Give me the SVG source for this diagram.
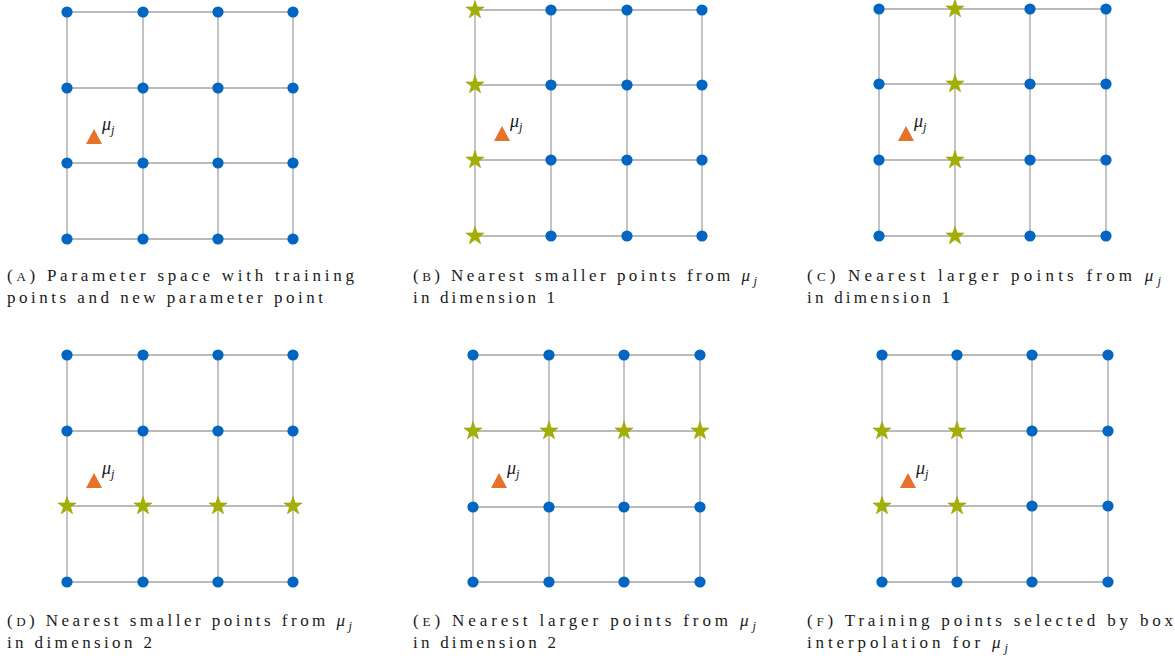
<svg xmlns="http://www.w3.org/2000/svg" width="1175" height="663" viewBox="0 0 1175 663">
<defs>
<circle id="dot" r="5.6" fill="#0066c2"/>
<path id="star" d="M0,-9.5 L2.234,-3.074 L9.035,-2.936 L3.614,1.174 L5.584,7.686 L0,3.8 L-5.584,7.686 L-3.614,1.174 L-9.035,-2.936 L-2.234,-3.074 Z" fill="#a3b003" stroke="#93a000" stroke-width="0.6"/>
<path id="tri" d="M0,-8 L8,7 L-8,7 Z" fill="#e5712a"/>
</defs>
<rect width="1175" height="663" fill="#ffffff"/>

<g id="connectors" stroke="#a3a3a3" stroke-width="1.3">
<g id="gridA"><line x1="67" y1="12" x2="293" y2="12"/><line x1="67" y1="88" x2="293" y2="88"/><line x1="67" y1="163" x2="293" y2="163"/><line x1="67" y1="239" x2="293" y2="239"/><line x1="67" y1="12" x2="67" y2="239"/><line x1="143" y1="12" x2="143" y2="239"/><line x1="218" y1="12" x2="218" y2="239"/><line x1="293" y1="12" x2="293" y2="239"/></g>
<g id="gridB"><line x1="475" y1="10" x2="702" y2="10"/><line x1="475" y1="85" x2="702" y2="85"/><line x1="475" y1="160" x2="702" y2="160"/><line x1="475" y1="236" x2="702" y2="236"/><line x1="475" y1="10" x2="475" y2="236"/><line x1="551" y1="10" x2="551" y2="236"/><line x1="627" y1="10" x2="627" y2="236"/><line x1="702" y1="10" x2="702" y2="236"/></g>
<g id="gridC"><line x1="879" y1="9" x2="1106" y2="9"/><line x1="879" y1="84" x2="1106" y2="84"/><line x1="879" y1="160" x2="1106" y2="160"/><line x1="879" y1="236" x2="1106" y2="236"/><line x1="879" y1="9" x2="879" y2="236"/><line x1="955" y1="9" x2="955" y2="236"/><line x1="1030" y1="9" x2="1030" y2="236"/><line x1="1106" y1="9" x2="1106" y2="236"/></g>
<g id="gridD"><line x1="67" y1="355" x2="293" y2="355"/><line x1="67" y1="431" x2="293" y2="431"/><line x1="67" y1="506" x2="293" y2="506"/><line x1="67" y1="582" x2="293" y2="582"/><line x1="67" y1="355" x2="67" y2="582"/><line x1="143" y1="355" x2="143" y2="582"/><line x1="218" y1="355" x2="218" y2="582"/><line x1="293" y1="355" x2="293" y2="582"/></g>
<g id="gridE"><line x1="473" y1="355" x2="700" y2="355"/><line x1="473" y1="431" x2="700" y2="431"/><line x1="473" y1="507" x2="700" y2="507"/><line x1="473" y1="582" x2="700" y2="582"/><line x1="473" y1="355" x2="473" y2="582"/><line x1="549" y1="355" x2="549" y2="582"/><line x1="624" y1="355" x2="624" y2="582"/><line x1="700" y1="355" x2="700" y2="582"/></g>
<g id="gridF"><line x1="882" y1="355" x2="1108" y2="355"/><line x1="882" y1="431" x2="1108" y2="431"/><line x1="882" y1="506" x2="1108" y2="506"/><line x1="882" y1="582" x2="1108" y2="582"/><line x1="882" y1="355" x2="882" y2="582"/><line x1="957" y1="355" x2="957" y2="582"/><line x1="1032" y1="355" x2="1032" y2="582"/><line x1="1108" y1="355" x2="1108" y2="582"/></g>
</g>

<!-- Panel A -->
<g id="panelA">
<g id="A-nodes">
<use id="A00" href="#dot" x="67" y="12"/><use id="A10" href="#dot" x="143" y="12"/><use id="A20" href="#dot" x="218" y="12"/><use id="A30" href="#dot" x="293" y="12"/>
<use id="A01" href="#dot" x="67" y="88"/><use id="A11" href="#dot" x="143" y="88"/><use id="A21" href="#dot" x="218" y="88"/><use id="A31" href="#dot" x="293" y="88"/>
<use id="A02" href="#dot" x="67" y="163"/><use id="A12" href="#dot" x="143" y="163"/><use id="A22" href="#dot" x="218" y="163"/><use id="A32" href="#dot" x="293" y="163"/>
<use id="A03" href="#dot" x="67" y="239"/><use id="A13" href="#dot" x="143" y="239"/><use id="A23" href="#dot" x="218" y="239"/><use id="A33" href="#dot" x="293" y="239"/>
</g>
<g id="A-mu"><use href="#tri" x="94" y="137"/><text font-family="Liberation Serif, serif" font-style="italic" font-size="18" fill="#1a1a1a" x="102" y="130">μ<tspan font-size="12.5" dy="4">j</tspan></text></g>
<g id="A-caption"><text font-family="Liberation Serif, serif" font-size="17" fill="#1a1a1a" x="7" y="281" textLength="347" lengthAdjust="spacing">(<tspan font-size="13">A</tspan>) Parameter space with training</text><text font-family="Liberation Serif, serif" font-size="17" fill="#1a1a1a" x="7" y="303" textLength="316" lengthAdjust="spacing">points and new parameter point</text></g>
</g>

<!-- Panel B -->
<g id="panelB">
<g id="B-nodes">
<use id="B10" href="#dot" x="551" y="10"/><use id="B20" href="#dot" x="627" y="10"/><use id="B30" href="#dot" x="702" y="10"/>
<use id="B11" href="#dot" x="551" y="85"/><use id="B21" href="#dot" x="627" y="85"/><use id="B31" href="#dot" x="702" y="85"/>
<use id="B12" href="#dot" x="551" y="160"/><use id="B22" href="#dot" x="627" y="160"/><use id="B32" href="#dot" x="702" y="160"/>
<use id="B13" href="#dot" x="551" y="236"/><use id="B23" href="#dot" x="627" y="236"/><use id="B33" href="#dot" x="702" y="236"/>
<use id="B00" href="#star" x="475" y="10"/><use id="B01" href="#star" x="475" y="85"/><use id="B02" href="#star" x="475" y="160"/><use id="B03" href="#star" x="475" y="236"/>
</g>
<g id="B-mu"><use href="#tri" x="502" y="134"/><text font-family="Liberation Serif, serif" font-style="italic" font-size="18" fill="#1a1a1a" x="510" y="127">μ<tspan font-size="12.5" dy="4">j</tspan></text></g>
<g id="B-caption"><text font-family="Liberation Serif, serif" font-size="17" fill="#1a1a1a" x="413" y="281" textLength="344" lengthAdjust="spacing">(<tspan font-size="13">B</tspan>) Nearest smaller points from <tspan font-style="italic">μ</tspan><tspan font-style="italic" font-size="12.5" dy="4">j</tspan></text><text font-family="Liberation Serif, serif" font-size="17" fill="#1a1a1a" x="413" y="303" textLength="142" lengthAdjust="spacing">in dimension 1</text></g>
</g>

<!-- Panel C -->
<g id="panelC">
<g id="C-nodes">
<use id="C00" href="#dot" x="879" y="9"/><use id="C20" href="#dot" x="1030" y="9"/><use id="C30" href="#dot" x="1106" y="9"/>
<use id="C01" href="#dot" x="879" y="84"/><use id="C21" href="#dot" x="1030" y="84"/><use id="C31" href="#dot" x="1106" y="84"/>
<use id="C02" href="#dot" x="879" y="160"/><use id="C22" href="#dot" x="1030" y="160"/><use id="C32" href="#dot" x="1106" y="160"/>
<use id="C03" href="#dot" x="879" y="236"/><use id="C23" href="#dot" x="1030" y="236"/><use id="C33" href="#dot" x="1106" y="236"/>
<use id="C10" href="#star" x="955" y="9"/><use id="C11" href="#star" x="955" y="84"/><use id="C12" href="#star" x="955" y="160"/><use id="C13" href="#star" x="955" y="236"/>
</g>
<g id="C-mu"><use href="#tri" x="906" y="134"/><text font-family="Liberation Serif, serif" font-style="italic" font-size="18" fill="#1a1a1a" x="914" y="127">μ<tspan font-size="12.5" dy="4">j</tspan></text></g>
<g id="C-caption"><text font-family="Liberation Serif, serif" font-size="17" fill="#1a1a1a" x="807" y="281" textLength="354" lengthAdjust="spacing">(<tspan font-size="13">C</tspan>) Nearest larger points from <tspan font-style="italic">μ</tspan><tspan font-style="italic" font-size="12.5" dy="4">j</tspan></text><text font-family="Liberation Serif, serif" font-size="17" fill="#1a1a1a" x="807" y="303" textLength="143" lengthAdjust="spacing">in dimension 1</text></g>
</g>

<!-- Panel D -->
<g id="panelD">
<g id="D-nodes">
<use id="D00" href="#dot" x="67" y="355"/><use id="D10" href="#dot" x="143" y="355"/><use id="D20" href="#dot" x="218" y="355"/><use id="D30" href="#dot" x="293" y="355"/>
<use id="D01" href="#dot" x="67" y="431"/><use id="D11" href="#dot" x="143" y="431"/><use id="D21" href="#dot" x="218" y="431"/><use id="D31" href="#dot" x="293" y="431"/>
<use id="D03" href="#dot" x="67" y="582"/><use id="D13" href="#dot" x="143" y="582"/><use id="D23" href="#dot" x="218" y="582"/><use id="D33" href="#dot" x="293" y="582"/>
<use id="D02" href="#star" x="67" y="506"/><use id="D12" href="#star" x="143" y="506"/><use id="D22" href="#star" x="218" y="506"/><use id="D32" href="#star" x="293" y="506"/>
</g>
<g id="D-mu"><use href="#tri" x="94" y="481"/><text font-family="Liberation Serif, serif" font-style="italic" font-size="18" fill="#1a1a1a" x="102" y="474">μ<tspan font-size="12.5" dy="4">j</tspan></text></g>
<g id="D-caption"><text font-family="Liberation Serif, serif" font-size="17" fill="#1a1a1a" x="7" y="626" textLength="345" lengthAdjust="spacing">(<tspan font-size="13">D</tspan>) Nearest smaller points from <tspan font-style="italic">μ</tspan><tspan font-style="italic" font-size="12.5" dy="4">j</tspan></text><text font-family="Liberation Serif, serif" font-size="17" fill="#1a1a1a" x="7" y="648" textLength="145" lengthAdjust="spacing">in dimension 2</text></g>
</g>

<!-- Panel E -->
<g id="panelE">
<g id="E-nodes">
<use id="E00" href="#dot" x="473" y="355"/><use id="E10" href="#dot" x="549" y="355"/><use id="E20" href="#dot" x="624" y="355"/><use id="E30" href="#dot" x="700" y="355"/>
<use id="E02" href="#dot" x="473" y="507"/><use id="E12" href="#dot" x="549" y="507"/><use id="E22" href="#dot" x="624" y="507"/><use id="E32" href="#dot" x="700" y="507"/>
<use id="E03" href="#dot" x="473" y="582"/><use id="E13" href="#dot" x="549" y="582"/><use id="E23" href="#dot" x="624" y="582"/><use id="E33" href="#dot" x="700" y="582"/>
<use id="E01" href="#star" x="473" y="431"/><use id="E11" href="#star" x="549" y="431"/><use id="E21" href="#star" x="624" y="431"/><use id="E31" href="#star" x="700" y="431"/>
</g>
<g id="E-mu"><use href="#tri" x="499" y="481"/><text font-family="Liberation Serif, serif" font-style="italic" font-size="18" fill="#1a1a1a" x="507" y="474">μ<tspan font-size="12.5" dy="4">j</tspan></text></g>
<g id="E-caption"><text font-family="Liberation Serif, serif" font-size="17" fill="#1a1a1a" x="413" y="626" textLength="343" lengthAdjust="spacing">(<tspan font-size="13">E</tspan>) Nearest larger points from <tspan font-style="italic">μ</tspan><tspan font-style="italic" font-size="12.5" dy="4">j</tspan></text><text font-family="Liberation Serif, serif" font-size="17" fill="#1a1a1a" x="413" y="648" textLength="143" lengthAdjust="spacing">in dimension 2</text></g>
</g>

<!-- Panel F -->
<g id="panelF">
<g id="F-nodes">
<use id="F00" href="#dot" x="882" y="355"/><use id="F10" href="#dot" x="957" y="355"/><use id="F20" href="#dot" x="1032" y="355"/><use id="F30" href="#dot" x="1108" y="355"/>
<use id="F21" href="#dot" x="1032" y="431"/><use id="F31" href="#dot" x="1108" y="431"/>
<use id="F22" href="#dot" x="1032" y="506"/><use id="F32" href="#dot" x="1108" y="506"/>
<use id="F03" href="#dot" x="882" y="582"/><use id="F13" href="#dot" x="957" y="582"/><use id="F23" href="#dot" x="1032" y="582"/><use id="F33" href="#dot" x="1108" y="582"/>
<use id="F01" href="#star" x="882" y="431"/><use id="F11" href="#star" x="957" y="431"/><use id="F02" href="#star" x="882" y="506"/><use id="F12" href="#star" x="957" y="506"/>
</g>
<g id="F-mu"><use href="#tri" x="908" y="481"/><text font-family="Liberation Serif, serif" font-style="italic" font-size="18" fill="#1a1a1a" x="916" y="474">μ<tspan font-size="12.5" dy="4">j</tspan></text></g>
<g id="F-caption"><text font-family="Liberation Serif, serif" font-size="17" fill="#1a1a1a" x="807" y="626" textLength="366" lengthAdjust="spacing">(<tspan font-size="13">F</tspan>) Training points selected by box</text><text font-family="Liberation Serif, serif" font-size="17" fill="#1a1a1a" x="807" y="648" textLength="201" lengthAdjust="spacing">interpolation for <tspan font-style="italic">μ</tspan><tspan font-style="italic" font-size="12.5" dy="4">j</tspan></text></g>
</g>
</svg>
